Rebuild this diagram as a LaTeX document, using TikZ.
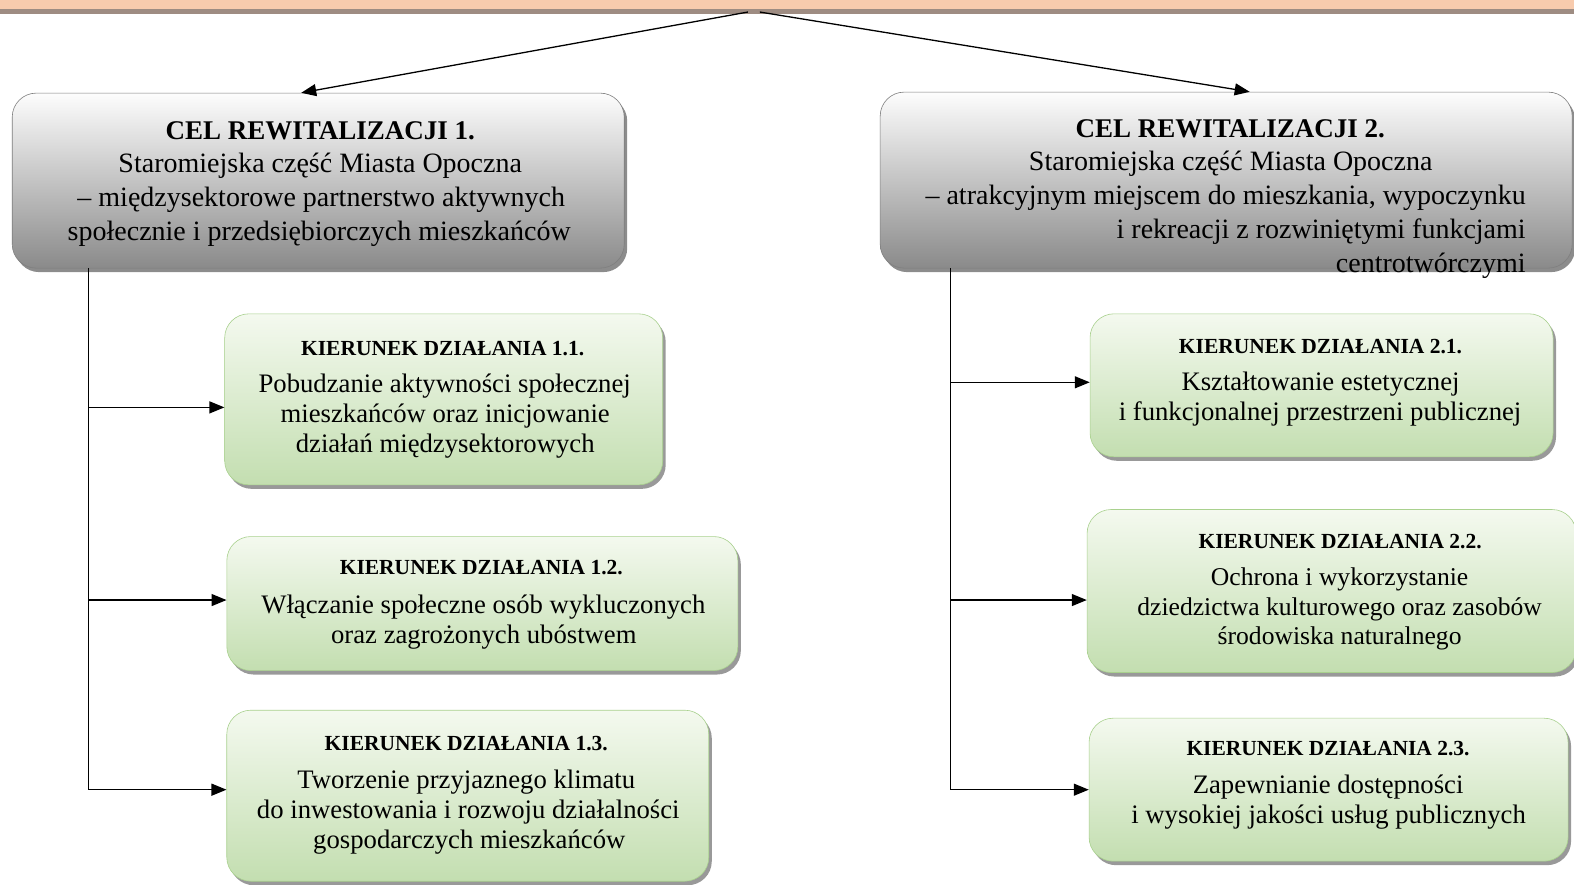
\documentclass[tikz,border=0pt]{standalone}
\usepackage{fontspec}
\setmainfont{Liberation Serif}
\usetikzlibrary{arrows.meta,shadows}
\definecolor{peach}{HTML}{F8CBAD}
\definecolor{peachshadow}{HTML}{9E8C82}
\definecolor{graytop}{HTML}{FDFDFD}
\definecolor{graybot}{HTML}{8A8A8A}
\definecolor{grayedge}{HTML}{7F7F7F}
\definecolor{greentop}{HTML}{F4F9EF}
\definecolor{greenbot}{HTML}{C3DEB0}
\definecolor{greenedge}{HTML}{A9D18E}
\tikzset{
  topbar/.style={rectangle, fill=peach, draw=none, inner sep=0pt, anchor=north west,
    drop shadow={shadow xshift=0pt, shadow yshift=-5pt, fill=peachshadow, opacity=1}},
  celbox/.style={rectangle, rounded corners=24pt, draw=grayedge, line width=0.6pt,
    top color=graytop, bottom color=graybot, inner sep=0pt,
    drop shadow={shadow xshift=3pt, shadow yshift=-4pt, fill=black, opacity=0.45}},
  kbox/.style={rectangle, rounded corners=24pt, draw=greenedge, line width=0.6pt,
    top color=greentop, bottom color=greenbot, inner sep=0pt,
    drop shadow={shadow xshift=3pt, shadow yshift=-4pt, fill=black, opacity=0.4}},
  tx/.style={inner sep=0pt, anchor=base},
  txr/.style={inner sep=0pt, anchor=base east},
  celtitle/.style={tx, font=\bfseries\fontsize{27}{33}\selectfont},
  celtext/.style={font=\fontsize{28}{33}\selectfont},
  khead/.style={tx, font=\bfseries\fontsize{21.5}{25}\selectfont},
  kbody/.style={tx, font=\fontsize{26.7}{30}\selectfont},
  kbodysm/.style={tx, font=\fontsize{25.6}{29}\selectfont},
  arr/.style={line width=1.3pt, -{Triangle[length=15pt,width=12pt]}},
  trunk/.style={line width=1.5pt}
}
\begin{document}
\begin{tikzpicture}[x=1.00383pt,y=-1.0034pt]
\useasboundingbox (0,0) rectangle (1568,881);
\fill[white] (0,0) rectangle (1568,881);

% top bar
\node[topbar, minimum width=1574pt, minimum height=9pt] (top) at (0,0) {};
\coordinate (t1) at (745,12);
\coordinate (t2) at (757,12);

% goal boxes
\node[celbox, minimum width=612pt, minimum height=175pt] (c1) at (317,180) {};
\node[celbox, minimum width=692pt, minimum height=176pt] (c2) at (1221.5,179.5) {};

% goal 1 text
\node[celtitle] (c1a) at (319,139) {CEL REWITALIZACJI 1.};
\node[tx, celtext] (c1b) at (319,172) {Staromiejska część Miasta Opoczna};
\node[tx, celtext] (c1c) at (320,206) {– międzysektorowe partnerstwo aktywnych};
\node[tx, celtext] (c1d) at (318,240) {społecznie i przedsiębiorczych mieszkańców};

% goal 2 text
\node[celtitle] (c2a) at (1225.5,137) {CEL REWITALIZACJI 2.};
\node[tx, celtext] (c2b) at (1226,170) {Staromiejska część Miasta Opoczna};
\node[tx, celtext] (c2c) at (1221,204) {– atrakcyjnym miejscem do mieszkania, wypoczynku};
\node[txr, celtext] (c2d) at (1520,238) {i rekreacji z rozwiniętymi funkcjami};
\node[txr, celtext] (c2e) at (1520,272) {centrotwórczymi};

% arrows from top bar
\draw[arr] (t1) -- ([xshift=-17pt]c1.north);
\draw[arr] (t2) -- ([xshift=23.5pt]c2.north);

% direction boxes
\node[kbox, minimum width=438pt, minimum height=171pt] (k11) at (442,398) {};
\node[kbox, minimum width=511pt, minimum height=134pt] (k12) at (480.5,601.5) {};
\node[kbox, minimum width=482pt, minimum height=171pt] (k13) at (466,793) {};
\node[kbox, minimum width=463pt, minimum height=143pt] (k21) at (1316.5,384) {};
\node[kbox, minimum width=489pt, minimum height=163pt] (k22) at (1326.5,589) {};
\node[kbox, minimum width=479pt, minimum height=143pt] (k23) at (1323.5,787) {};

% texts 1.x
\node[khead] (k11a) at (441,354) {KIERUNEK DZIAŁANIA 1.1.};
\node[kbody] (k11b) at (443,391) {Pobudzanie aktywności społecznej};
\node[kbody] (k11c) at (443.5,421) {mieszkańców oraz inicjowanie};
\node[kbody] (k11d) at (443.5,451) {działań międzysektorowych};

\node[khead] (k12a) at (479.5,573) {KIERUNEK DZIAŁANIA 1.2.};
\node[kbody] (k12b) at (481.5,611) {Włączanie społeczne osób wykluczonych};
\node[kbody] (k12c) at (482,641) {oraz zagrożonych ubóstwem};

\node[khead] (k13a) at (464.5,748) {KIERUNEK DZIAŁANIA 1.3.};
\node[kbody] (k13b) at (464.5,786) {Tworzenie przyjaznego klimatu};
\node[kbody] (k13c) at (466.5,816) {do inwestowania i rozwoju działalności};
\node[kbody] (k13d) at (467.5,846) {gospodarczych mieszkańców};

% texts 2.x
\node[khead] (k21a) at (1315.5,352) {KIERUNEK DZIAŁANIA 2.1.};
\node[kbody] (k21b) at (1315.5,389) {Kształtowanie estetycznej};
\node[kbody] (k21c) at (1315,419) {i funkcjonalnej przestrzeni publicznej};

\node[khead] (k22a) at (1335,547) {KIERUNEK DZIAŁANIA 2.2.};
\node[kbodysm] (k22b) at (1334.5,584) {Ochrona i wykorzystanie};
\node[kbodysm] (k22c) at (1334.5,613) {dziedzictwa kulturowego oraz zasobów};
\node[kbodysm] (k22d) at (1334.5,642) {środowiska naturalnego};

\node[khead] (k23a) at (1323,753) {KIERUNEK DZIAŁANIA 2.3.};
\node[kbody] (k23b) at (1323,791) {Zapewnianie dostępności};
\node[kbody] (k23c) at (1323.5,821) {i wysokiej jakości usług publicznych};

% trunks
\coordinate (L1) at (88,406);
\coordinate (L2) at (88,598);
\coordinate (L3) at (88,787);
\coordinate (R1) at (947,381);
\coordinate (R2) at (947,598);
\coordinate (R3) at (947,787);

\draw[trunk] (c1.south -| L3) -- (L3);
\draw[trunk] (c2.south -| R3) -- (R3);

\draw[arr] (L1) -- (L1 -| k11.west);
\draw[arr] (L2) -- (L2 -| k12.west);
\draw[arr] (L3) -- (L3 -| k13.west);
\draw[arr] (R1) -- (R1 -| k21.west);
\draw[arr] (R2) -- (R2 -| k22.west);
\draw[arr] (R3) -- (R3 -| k23.west);
\end{tikzpicture}
\end{document}
